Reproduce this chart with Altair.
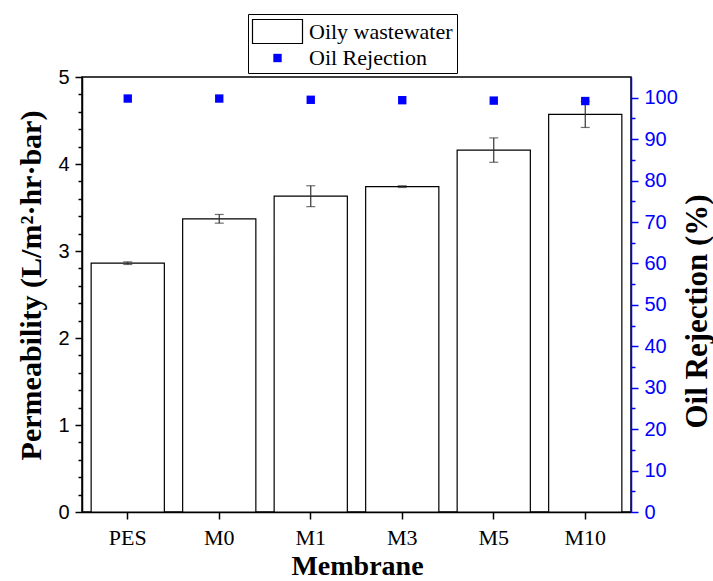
import altair as alt
import pandas as pd

membranes = ["PES", "M0", "M1", "M3", "M5", "M10"]
permeability = [2.86, 3.37, 3.63, 3.74, 4.16, 4.57]
perm_err = [0.015, 0.05, 0.12, 0.01, 0.14, 0.15]
rejection = [99.8, 99.8, 99.5, 99.4, 99.3, 99.2]
series_names = ["Oily wastewater", "Oil Rejection"]
left_ticks = [0, 0.2, 0.4, 0.6, 0.8, 1, 1.2, 1.4, 1.6, 1.8, 2, 2.2, 2.4, 2.6, 2.8,
              3, 3.2, 3.4, 3.6, 3.8, 4, 4.2, 4.4, 4.6, 4.8, 5]
right_ticks = [0, 5, 10, 15, 20, 25, 30, 35, 40, 45, 50, 55, 60, 65, 70, 75, 80,
               85, 90, 95, 100]

bar_df = pd.DataFrame({
    "membrane": membranes,
    "perm": permeability,
    "lo": [p - e for p, e in zip(permeability, perm_err)],
    "hi": [p + e for p, e in zip(permeability, perm_err)],
    "series": series_names[0],
})
pt_df = pd.DataFrame({
    "membrane": membranes,
    "rejection": rejection,
    "series": series_names[1],
})

W, H = 549, 435
SERIF = "Liberation Serif"
SANS = "Liberation Sans"
BLUE = "#0000ff"
INT_TEST = "abs(datum.value - round(datum.value)) < 0.001"

x_enc = alt.X(
    "membrane:N", sort=membranes,
    scale=alt.Scale(paddingInner=0.2, paddingOuter=0.1),
    axis=alt.Axis(
        title="Membrane", labelAngle=0, labelFont=SERIF, labelFontSize=22,
        labelColor="black", labelBaseline="alphabetic", labelPadding=25,
        tickSize=7, tickColor="black", tickWidth=1.5, domainColor="black",
        domainWidth=1.5, titleFont=SERIF, titleFontSize=28, titleFontWeight="bold",
        titleColor="black", titleX=275, titleY=62, titleBaseline="alphabetic",
        titleAlign="center", grid=False,
    ),
)

y_scale = alt.Scale(domain=[0, 5], nice=False)
y_axis = alt.Axis(
    title="Permeability (L/m²·hr·bar)", values=left_ticks,
    labelExpr=INT_TEST + " ? format(datum.value, 'd') : ''",
    labelOverlap=False, labelFont=SANS, labelFontSize=20, labelColor="black",
    labelPadding=6,
    tickSize={"condition": {"test": INT_TEST, "value": 7}, "value": 4},
    tickColor="black", tickWidth=1.5, domainColor="black", domainWidth=1.5,
    titleFont=SERIF, titleFontSize=30, titleFontWeight="bold", titleColor="black",
    titleAngle=270, titleX=-51, titleY=208, titleAlign="center",
    titleBaseline="middle", grid=False,
)

LEG = dict(title=None, orient="none", legendX=166, legendY=-63)

color_enc = alt.Color(
    "series:N",
    scale=alt.Scale(domain=series_names, range=["white", BLUE]),
    legend=alt.Legend(**LEG),
)

bars = alt.Chart(bar_df).mark_bar(stroke="black", strokeWidth=1.2).encode(
    x=x_enc,
    y=alt.Y("perm:Q", scale=y_scale, axis=y_axis),
    color=color_enc,
)
err = alt.Chart(bar_df).mark_rule(color="#333333", strokeWidth=1.2).encode(
    x=x_enc,
    y=alt.Y("lo:Q", scale=y_scale, axis=y_axis),
    y2="hi:Q",
)
cap_lo = alt.Chart(bar_df).mark_tick(color="#333333", thickness=1.2, size=9).encode(
    x=x_enc, y=alt.Y("lo:Q", scale=y_scale, axis=y_axis),
)
cap_hi = alt.Chart(bar_df).mark_tick(color="#333333", thickness=1.2, size=9).encode(
    x=x_enc, y=alt.Y("hi:Q", scale=y_scale, axis=y_axis),
)
left = alt.layer(bars, err, cap_lo, cap_hi)

points = alt.Chart(pt_df).mark_point(filled=True, opacity=1, strokeWidth=0).encode(
    x=x_enc,
    y=alt.Y(
        "rejection:Q", scale=alt.Scale(domain=[0, 105], nice=False),
        axis=alt.Axis(
            orient="right", title="Oil Rejection (%)", values=right_ticks,
            labelExpr="datum.value % 10 === 0 ? datum.label : ''",
            labelOverlap=False, labelFont=SANS, labelFontSize=20, labelColor=BLUE,
            labelPadding=6,
            tickSize={"condition": {"test": "datum.value % 10 === 0", "value": 7}, "value": 4},
            tickColor=BLUE, tickWidth=1.5, domainColor=BLUE, domainWidth=1.5,
            titleFont=SERIF, titleFontSize=31, titleFontWeight="bold",
            titleColor="black", titleAngle=270, titleX=66, titleY=234,
            titleAlign="center", titleBaseline="middle", grid=False,
        ),
    ),
    color=color_enc,
    shape=alt.Shape("series:N", scale=alt.Scale(
        domain=series_names, range=["M-2,-0.96H2V0.96H-2Z", "square"]),
        legend=alt.Legend(**LEG)),
    size=alt.Size("series:N", scale=alt.Scale(domain=series_names, range=[625, 70]),
                  legend=alt.Legend(**LEG)),
    stroke=alt.Stroke("series:N", scale=alt.Scale(domain=series_names, range=["black", "transparent"]),
                      legend=alt.Legend(**LEG)),
)

chart = alt.layer(left, points).resolve_scale(y="independent").properties(
    width=W, height=H,
    autosize=alt.AutoSizeParams(type="none"),
    padding={"left": 82, "top": 77, "right": 82, "bottom": 69},
    background="white",
).configure_view(
    stroke="black", strokeWidth=1.5,
).configure_legend(
    labelFont=SERIF, labelFontSize=22, labelColor="black", padding=4,
    strokeColor="black", fillColor="white", rowPadding=1, labelOffset=18,
    symbolOffset=12, symbolStrokeWidth=1.2, cornerRadius=0,
)

chart.save("out.html", embed_options={"renderer": "svg", "actions": False})
